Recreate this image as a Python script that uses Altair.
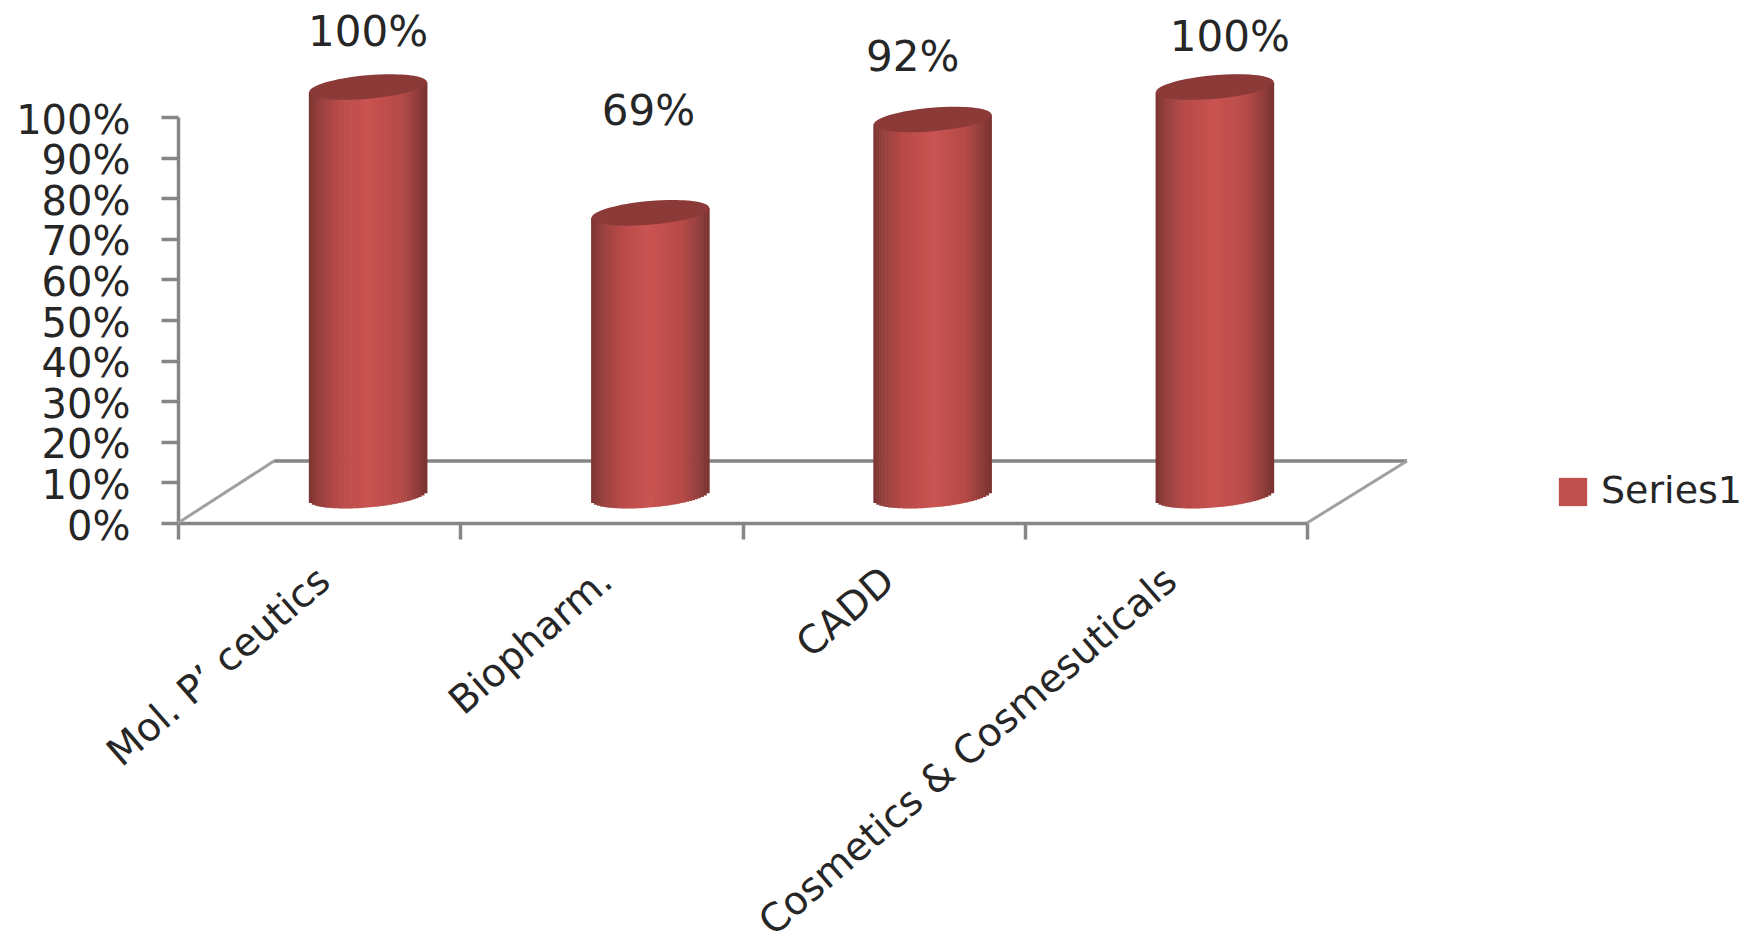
import math
import altair as alt
import pandas as pd

CATEGORIES = ["Mol. P’ ceutics", "Biopharm.", "CADD", "Cosmetics & Cosmesuticals"]
VALUES = [1.00, 0.69, 0.92, 1.00]
LABELS = ["100%", "69%", "92%", "100%"]
SERIES = "Series1"
Y_TICKS = [0, .1, .2, .3, .4, .5, .6, .7, .8, .9, 1.0]

df = pd.DataFrame({"cat": CATEGORIES, "value": VALUES, "label": LABELS, "series": SERIES})

W, H = 1129, 406
FONT = "DejaVu Sans"
TXT = "#262626"
AXC = "#868686"
DX, DY = 49, -30
HALF = 59      # half cylinder width
TILT = 5       # rise of the ellipse tips
ARC = 12       # ellipse half height
STRIPS = 40

SHADE = [(0, (0x7a, 0x33, 0x31)), (.08, (0x95, 0x40, 0x3e)), (.25, (0xb7, 0x4a, 0x48)),
         (.5, (0xca, 0x53, 0x50)), (.78, (0xb5, 0x4a, 0x48)), (.92, (0x8f, 0x3d, 0x3b)),
         (1, (0x78, 0x32, 0x30))]


def shade(t):
    for (a, ca), (b, cb) in zip(SHADE, SHADE[1:]):
        if a <= t <= b:
            f = (t - a) / (b - a)
            return "#%02x%02x%02x" % tuple(round(p + (q - p) * f) for p, q in zip(ca, cb))
    return "#783230"


x_enc = alt.X(
    "cat:N", sort=CATEGORIES, title=None,
    scale=alt.Scale(paddingInner=0, paddingOuter=0),
    axis=alt.Axis(
        tickBand="extent", labelAngle=-41, labelAlign="right", labelBaseline="middle",
        labelFont=FONT, labelFontSize=39, labelColor=TXT, labelPadding=36, labelLimit=800,
        labelOffset=5, labelOverlap=False, labelBound=False, labelFlush=False,
        domainColor=AXC, domainWidth=3.5, tickColor=AXC, tickWidth=3.5, tickSize=16, grid=False,
    ),
)
y_enc = alt.Y(
    "value:Q", title=None, stack=None,
    scale=alt.Scale(domain=[0, 1], nice=False),
    axis=alt.Axis(
        values=Y_TICKS, format=".0%", labelFont=FONT, labelFontSize=40, labelColor=TXT,
        labelPadding=31, labelFontWeight="normal", labelOffset=4, labelOverlap=False,
        labelBound=False, labelFlush=False, domainColor=AXC, domainWidth=3.5,
        tickColor=AXC, tickWidth=3.5, tickSize=17, grid=False,
    ),
)

base = alt.Chart(df)
deco = alt.Chart(pd.DataFrame({"i": [0]}))
back = deco.mark_rule(color=AXC, strokeWidth=3.5).encode(
    x=alt.value(96), x2=alt.value(W + 100), y=alt.value(H - 62))
left = deco.mark_rule(color="#a0a0a0", strokeWidth=3).encode(
    x=alt.value(0), x2=alt.value(96), y=alt.value(H), y2=alt.value(H - 62))
right = deco.mark_rule(color="#a0a0a0", strokeWidth=3).encode(
    x=alt.value(W), x2=alt.value(W + 100), y=alt.value(H), y2=alt.value(H - 62))

ELLIPSE = "M-1,0 A1,0.2 0 1,1 1,0 A1,0.2 0 1,1 -1,0 Z"

# narrow bar hidden behind the cylinder: carries the colour scale and its legend
legend_bars = base.mark_bar(width=2, xOffset=DX, yOffset=DY + 2, y2Offset=DY).encode(
    x=x_enc, y=y_enc, y2=alt.Y2(datum=0),
    color=alt.Color(
        "series:N", title=None,
        scale=alt.Scale(domain=[SERIES], range=["#c0504d"]),
        legend=alt.Legend(
            orient="none", legendX=1376, legendY=356, symbolType="square", symbolSize=800,
            labelFont=FONT, labelFontSize=38, labelColor=TXT, labelOffset=9,
            symbolStrokeWidth=0, labelLimit=300, rowPadding=0,
        ),
    ),
)

strips = []
for i in range(STRIPS):
    t = (i + .5) / STRIPS
    u = 2 * t - 1
    strips.append(
        base.mark_bar(
            width=2 * HALF / STRIPS + .6, color=shade(t),
            xOffset=DX + u * HALF,
            yOffset=DY - TILT * u,
            y2Offset=DY + 2.5 - TILT * u + ARC * math.sqrt(1 - u * u),
        ).encode(x=x_enc, y=y_enc, y2=alt.Y2(datum=0))
    )

top = base.mark_point(
    shape=ELLIPSE, size=(2 * HALF) ** 2, filled=True, fill="#8c3a38", opacity=1, strokeWidth=0,
    angle=355, xOffset=DX, yOffset=DY,
).encode(x=x_enc, y=y_enc)

text_layers = []
for i, (dx, dy) in enumerate([(49, -84), (47, -131), (29, -91), (64, -79)]):
    text_layers.append(
        alt.Chart(df.iloc[[i]]).mark_text(
            font=FONT, fontSize=42, color=TXT, dx=dx, dy=dy, baseline="middle", align="center",
        ).encode(x=x_enc, y=y_enc, text="label:N")
    )

chart = alt.layer(back, left, right, legend_bars, *strips, top, *text_layers).properties(
    width=W, height=H,
    autosize=alt.AutoSizeParams(type="none"),
    padding=alt.Padding(left=170, top=109, right=442, bottom=414),
).configure_view(stroke=None)

chart.save("out.html", embed_options={"renderer": "svg", "actions": False})
